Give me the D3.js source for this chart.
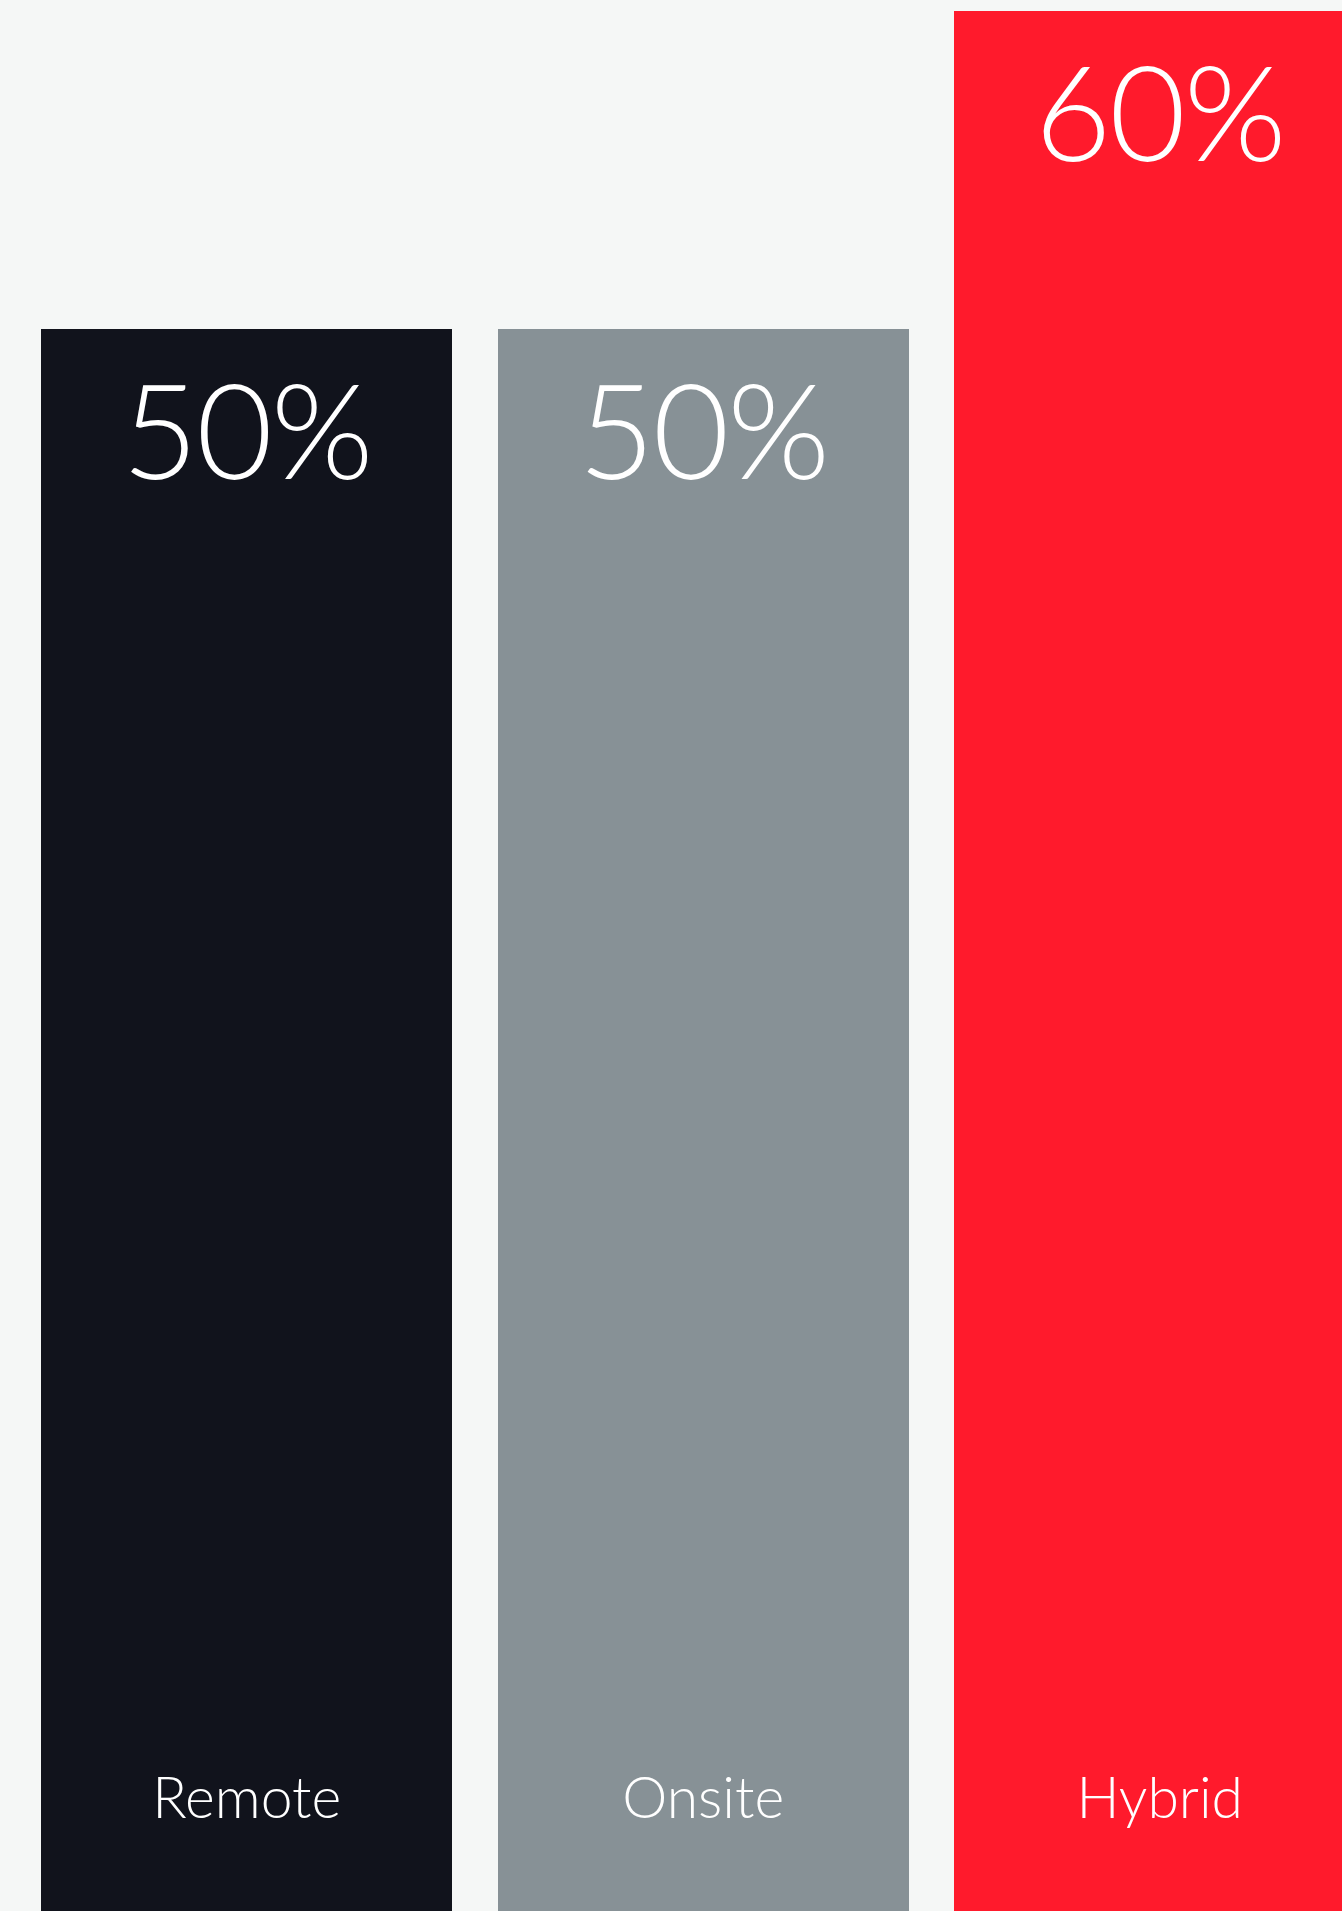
<!DOCTYPE html>
<html>
<head>
<meta charset="utf-8">
<script src="https://cdn.jsdelivr.net/npm/d3@7"></script>
<style>
    html, body { margin: 0; padding: 0; background: #f5f7f6; overflow: hidden; }
    svg { display: block; }
</style>
</head>
<body>
<div id="chart"></div>
<script>
// 数据
const categories = ['Remote', 'Onsite', 'Hybrid'];
const values = [50, 50, 60];
const colors = ['#11131c', '#879196', '#ff1a2c'];

const width = 1342, height = 1911;

let svg = d3.select('#chart').append('svg')
    .attr('width', width)
    .attr('height', height);

svg.append('rect').attr('width', width).attr('height', height).attr('fill', '#f5f7f6');

// x方向用band比例尺，最后一根柱子超出画布右侧
let xScale = d3.scaleBand()
    .domain(categories)
    .range([41, 1365.5])
    .paddingInner(0.0986)
    .paddingOuter(0);

// 0 在画布底部之外
let yScale = d3.scaleLinear()
    .domain([0, 60])
    .range([1919, 11]);

let bars = svg.selectAll('g.bar')
    .data(categories)
    .enter()
    .append('g')
    .attr('class', 'bar');

bars.append('rect')
    .attr('x', d => Math.round(xScale(d)))
    .attr('y', (d, i) => Math.round(yScale(values[i])))
    .attr('width', Math.round(xScale.bandwidth()))
    .attr('height', (d, i) => yScale(0) - Math.round(yScale(values[i])))
    .attr('fill', (d, i) => colors[i])
    .attr('shape-rendering', 'crispEdges');

// 百分比
bars.append('text')
    .attr('x', d => xScale(d) + xScale.bandwidth() / 2)
    .attr('y', (d, i) => yScale(values[i]) + 150)
    .attr('text-anchor', 'middle')
    .attr('fill', '#ffffff')
    .style('font-family', 'Lato, sans-serif')
    .style('font-weight', 300)
    .style('font-size', '132px')
    .style('letter-spacing', '-2px')
    .text((d, i) => values[i] + '%');

// 类别标签，贴近底部
bars.append('text')
    .attr('x', d => xScale(d) + xScale.bandwidth() / 2)
    .attr('y', 1818)
    .attr('text-anchor', 'middle')
    .attr('fill', '#ffffff')
    .style('font-family', 'Lato, sans-serif')
    .style('font-weight', 300)
    .style('font-size', '57px')
    .text(d => d);
</script>
</body>
</html>
